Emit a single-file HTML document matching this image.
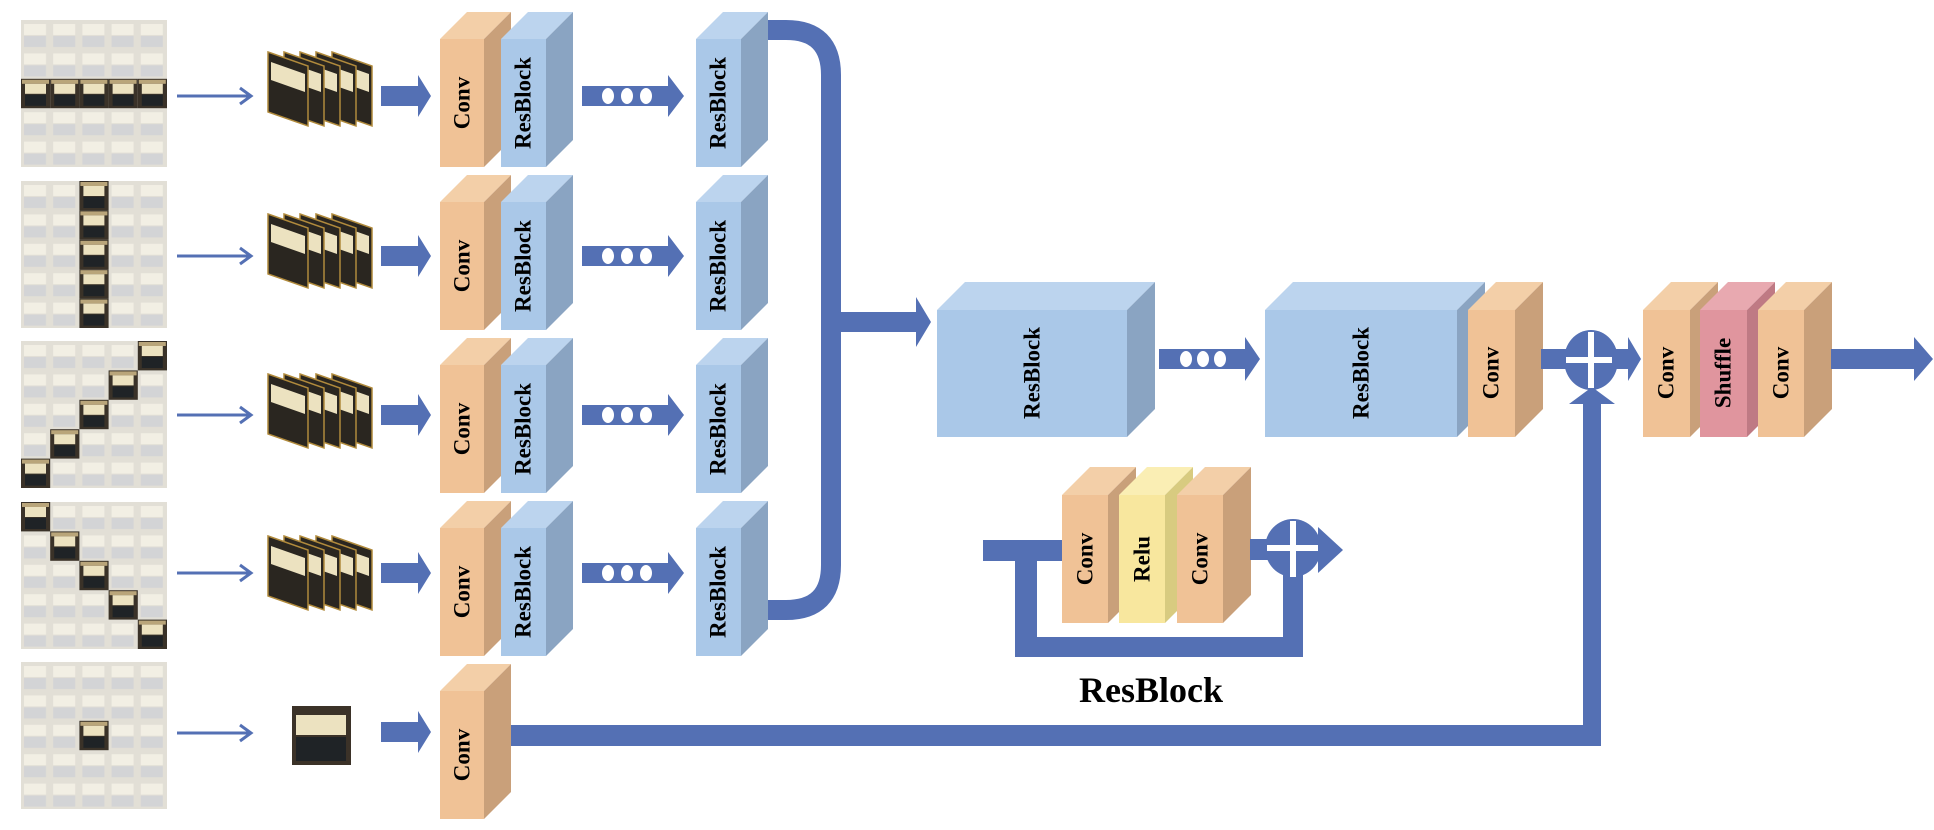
<!DOCTYPE html>
<html><head><meta charset="utf-8"><style>
html,body{margin:0;padding:0;background:#fff;}
svg{display:block;}
.t{font-family:"Liberation Serif",serif;font-weight:bold;font-size:23px;fill:#000;text-anchor:middle;dominant-baseline:central;}
</style></head><body>
<svg width="1934" height="830" viewBox="0 0 1934 830" xmlns="http://www.w3.org/2000/svg">
<defs>
<pattern id="cell" x="21" y="20" width="29.2" height="29.4" patternUnits="userSpaceOnUse">
<rect width="29.2" height="29.4" fill="#e2dfd6"/>
<rect x="3" y="4" width="22" height="11" fill="#f2efe4"/>
<rect x="3" y="16" width="22" height="11" fill="#d3d4d6"/>
</pattern>
<g id="hc">
<rect width="29.2" height="29.4" fill="#3a3228"/>
<rect x="1" y="1" width="27" height="4" fill="#b9a57a"/>
<rect x="4" y="5" width="21" height="10" fill="#ece2c0"/>
<rect x="4" y="16" width="21" height="11" fill="#1f2326"/>
</g>
<g id="card">
<polygon points="0,0 40,14 40,74 0,60" fill="#2a2620" stroke="#b08a3c" stroke-width="1.5"/>
<polygon points="3,10 37,22 37,40 3,28" fill="#ece2c0"/>
</g>
</defs>

<!-- input grids -->
<g>
<rect x="21" y="20" width="146" height="147" fill="url(#cell)"/>
<use href="#hc" x="21" y="78.8"/><use href="#hc" x="50.2" y="78.8"/><use href="#hc" x="79.4" y="78.8"/><use href="#hc" x="108.6" y="78.8"/><use href="#hc" x="137.8" y="78.8"/>
</g>
<g transform="translate(0,161)">
<rect x="21" y="20" width="146" height="147" fill="url(#cell)"/>
<use href="#hc" x="79.4" y="20"/><use href="#hc" x="79.4" y="49.4"/><use href="#hc" x="79.4" y="78.8"/><use href="#hc" x="79.4" y="108.2"/><use href="#hc" x="79.4" y="137.6"/>
</g>
<g transform="translate(0,321)">
<rect x="21" y="20" width="146" height="147" fill="url(#cell)"/>
<use href="#hc" x="137.8" y="20"/><use href="#hc" x="108.6" y="49.4"/><use href="#hc" x="79.4" y="78.8"/><use href="#hc" x="50.2" y="108.2"/><use href="#hc" x="21" y="137.6"/>
</g>
<g transform="translate(0,482)">
<rect x="21" y="20" width="146" height="147" fill="url(#cell)"/>
<use href="#hc" x="21" y="20"/><use href="#hc" x="50.2" y="49.4"/><use href="#hc" x="79.4" y="78.8"/><use href="#hc" x="108.6" y="108.2"/><use href="#hc" x="137.8" y="137.6"/>
</g>
<g transform="translate(0,642)">
<rect x="21" y="20" width="146" height="147" fill="url(#cell)"/>
<use href="#hc" x="79.4" y="78.8"/>
</g>

<!-- image stacks -->
<g><use href="#card" x="332" y="52"/><use href="#card" x="316" y="52"/><use href="#card" x="300" y="52"/><use href="#card" x="284" y="52"/><use href="#card" x="268" y="52"/></g>
<g transform="translate(0,162)"><use href="#card" x="332" y="52"/><use href="#card" x="316" y="52"/><use href="#card" x="300" y="52"/><use href="#card" x="284" y="52"/><use href="#card" x="268" y="52"/></g>
<g transform="translate(0,322)"><use href="#card" x="332" y="52"/><use href="#card" x="316" y="52"/><use href="#card" x="300" y="52"/><use href="#card" x="284" y="52"/><use href="#card" x="268" y="52"/></g>
<g transform="translate(0,484)"><use href="#card" x="332" y="52"/><use href="#card" x="316" y="52"/><use href="#card" x="300" y="52"/><use href="#card" x="284" y="52"/><use href="#card" x="268" y="52"/></g>
<g>
<rect x="292" y="706" width="59" height="59" fill="#3b3228"/>
<rect x="296" y="715" width="50" height="20" fill="#ece2c0"/>
<rect x="296" y="737" width="50" height="24" fill="#1f2326"/>
</g>

<g stroke="#5470b4" stroke-width="3" fill="none">
<path d="M177,96 H250 M240,88 L251,96 L240,104"/>
<path d="M177,256 H250 M240,248 L251,256 L240,264"/>
<path d="M177,415 H250 M240,407 L251,415 L240,423"/>
<path d="M177,573 H250 M240,565 L251,573 L240,581"/>
<path d="M177,733 H250 M240,725 L251,733 L240,741"/>
</g>
<g fill="#5470b4">
<polygon points="381,86 418,86 418,75 431,96 418,117 418,106 381,106"/>
<polygon points="381,246 418,246 418,235 431,256 418,277 418,266 381,266"/>
<polygon points="381,405 418,405 418,394 431,415 418,436 418,425 381,425"/>
<polygon points="381,563 418,563 418,552 431,573 418,594 418,583 381,583"/>
<polygon points="381,722 418,722 418,711 431,732 418,753 418,742 381,742"/>
<polygon points="582,86 668,86 668,75 684,96 668,117 668,106 582,106"/>
<polygon points="582,246 668,246 668,235 684,256 668,277 668,266 582,266"/>
<polygon points="582,405 668,405 668,394 684,415 668,436 668,425 582,425"/>
<polygon points="582,563 668,563 668,552 684,573 668,594 668,583 582,583"/>
</g>
<g fill="#fff">
<ellipse cx="608" cy="96" rx="6" ry="8"/><ellipse cx="627" cy="96" rx="6" ry="8"/><ellipse cx="646" cy="96" rx="6" ry="8"/>
<ellipse cx="608" cy="256" rx="6" ry="8"/><ellipse cx="627" cy="256" rx="6" ry="8"/><ellipse cx="646" cy="256" rx="6" ry="8"/>
<ellipse cx="608" cy="415" rx="6" ry="8"/><ellipse cx="627" cy="415" rx="6" ry="8"/><ellipse cx="646" cy="415" rx="6" ry="8"/>
<ellipse cx="608" cy="573" rx="6" ry="8"/><ellipse cx="627" cy="573" rx="6" ry="8"/><ellipse cx="646" cy="573" rx="6" ry="8"/>
</g>

<!-- row boxes -->
<g>
<rect x="440" y="39" width="44" height="128" fill="#f0c296"/>
<polygon points="440,39 467,12 511,12 484,39" fill="#f3cfa8"/>
<polygon points="484,39 511,12 511,140 484,167" fill="#c9a07a"/>
<rect x="501" y="39" width="45" height="128" fill="#aac8e8"/>
<polygon points="501,39 528,12 573,12 546,39" fill="#bcd4ee"/>
<polygon points="546,39 573,12 573,140 546,167" fill="#8aa4c2"/>
<rect x="696" y="39" width="45" height="128" fill="#aac8e8"/>
<polygon points="696,39 723,12 768,12 741,39" fill="#bcd4ee"/>
<polygon points="741,39 768,12 768,140 741,167" fill="#8aa4c2"/>
<text class="t" transform="translate(462,103) rotate(-90)">Conv</text>
<text class="t" transform="translate(523,103) rotate(-90)">ResBlock</text>
<text class="t" transform="translate(718,103) rotate(-90)">ResBlock</text>
</g>
<g transform="translate(0,163)">
<rect x="440" y="39" width="44" height="128" fill="#f0c296"/>
<polygon points="440,39 467,12 511,12 484,39" fill="#f3cfa8"/>
<polygon points="484,39 511,12 511,140 484,167" fill="#c9a07a"/>
<rect x="501" y="39" width="45" height="128" fill="#aac8e8"/>
<polygon points="501,39 528,12 573,12 546,39" fill="#bcd4ee"/>
<polygon points="546,39 573,12 573,140 546,167" fill="#8aa4c2"/>
<rect x="696" y="39" width="45" height="128" fill="#aac8e8"/>
<polygon points="696,39 723,12 768,12 741,39" fill="#bcd4ee"/>
<polygon points="741,39 768,12 768,140 741,167" fill="#8aa4c2"/>
<text class="t" transform="translate(462,103) rotate(-90)">Conv</text>
<text class="t" transform="translate(523,103) rotate(-90)">ResBlock</text>
<text class="t" transform="translate(718,103) rotate(-90)">ResBlock</text>
</g>
<g transform="translate(0,326)">
<rect x="440" y="39" width="44" height="128" fill="#f0c296"/>
<polygon points="440,39 467,12 511,12 484,39" fill="#f3cfa8"/>
<polygon points="484,39 511,12 511,140 484,167" fill="#c9a07a"/>
<rect x="501" y="39" width="45" height="128" fill="#aac8e8"/>
<polygon points="501,39 528,12 573,12 546,39" fill="#bcd4ee"/>
<polygon points="546,39 573,12 573,140 546,167" fill="#8aa4c2"/>
<rect x="696" y="39" width="45" height="128" fill="#aac8e8"/>
<polygon points="696,39 723,12 768,12 741,39" fill="#bcd4ee"/>
<polygon points="741,39 768,12 768,140 741,167" fill="#8aa4c2"/>
<text class="t" transform="translate(462,103) rotate(-90)">Conv</text>
<text class="t" transform="translate(523,103) rotate(-90)">ResBlock</text>
<text class="t" transform="translate(718,103) rotate(-90)">ResBlock</text>
</g>
<g transform="translate(0,489)">
<rect x="440" y="39" width="44" height="128" fill="#f0c296"/>
<polygon points="440,39 467,12 511,12 484,39" fill="#f3cfa8"/>
<polygon points="484,39 511,12 511,140 484,167" fill="#c9a07a"/>
<rect x="501" y="39" width="45" height="128" fill="#aac8e8"/>
<polygon points="501,39 528,12 573,12 546,39" fill="#bcd4ee"/>
<polygon points="546,39 573,12 573,140 546,167" fill="#8aa4c2"/>
<rect x="696" y="39" width="45" height="128" fill="#aac8e8"/>
<polygon points="696,39 723,12 768,12 741,39" fill="#bcd4ee"/>
<polygon points="741,39 768,12 768,140 741,167" fill="#8aa4c2"/>
<text class="t" transform="translate(462,103) rotate(-90)">Conv</text>
<text class="t" transform="translate(523,103) rotate(-90)">ResBlock</text>
<text class="t" transform="translate(718,103) rotate(-90)">ResBlock</text>
</g>

<!-- bottom skip line -->
<rect x="505" y="725" width="1096" height="21" fill="#5470b4"/>
<rect x="1583" y="400" width="18" height="346" fill="#5470b4"/>
<polygon points="1569,404 1592,387 1615,404" fill="#5470b4"/>

<g transform="translate(0,652)">
<rect x="440" y="39" width="44" height="128" fill="#f0c296"/>
<polygon points="440,39 467,12 511,12 484,39" fill="#f3cfa8"/>
<polygon points="484,39 511,12 511,140 484,167" fill="#c9a07a"/>
<text class="t" transform="translate(462,103) rotate(-90)">Conv</text>
</g>

<!-- merge curve -->
<path d="M768,30 H786 Q831,30 831,75 V565 Q831,610 786,610 H768" fill="none" stroke="#5470b4" stroke-width="20"/>
<polygon points="841,312 916,312 916,297 931,322 916,347 916,332 841,332" fill="#5470b4"/>

<!-- big blocks -->
<rect x="937" y="310" width="190" height="127" fill="#aac8e8"/>
<polygon points="937,310 965,282 1155,282 1127,310" fill="#bcd4ee"/>
<polygon points="1127,310 1155,282 1155,409 1127,437" fill="#8aa4c2"/>
<text class="t" transform="translate(1032,373) rotate(-90)">ResBlock</text>
<polygon points="1159,349 1245,349 1245,337 1260,359 1245,381 1245,369 1159,369" fill="#5470b4"/>
<g fill="#fff"><ellipse cx="1186" cy="359" rx="6" ry="8"/><ellipse cx="1203" cy="359" rx="6" ry="8"/><ellipse cx="1220" cy="359" rx="6" ry="8"/></g>

<rect x="1265" y="310" width="192" height="127" fill="#aac8e8"/>
<polygon points="1265,310 1293,282 1485,282 1457,310" fill="#bcd4ee"/>
<polygon points="1457,310 1485,282 1485,409 1457,437" fill="#8aa4c2"/>
<text class="t" transform="translate(1361,373) rotate(-90)">ResBlock</text>
<rect x="1468" y="310" width="47" height="127" fill="#f0c296"/>
<polygon points="1468,310 1496,282 1543,282 1515,310" fill="#f3cfa8"/>
<polygon points="1515,310 1543,282 1543,409 1515,437" fill="#c9a07a"/>
<text class="t" transform="translate(1491,373) rotate(-90)">Conv</text>

<rect x="1541" y="349" width="30" height="20" fill="#5470b4"/>
<ellipse cx="1591" cy="360" rx="27" ry="30" fill="#5470b4"/>
<path d="M1591,332 V388 M1566,360 H1616" stroke="#fff" stroke-width="6"/>
<polygon points="1612,349 1628,349 1628,337 1641,359 1628,381 1628,369 1612,369" fill="#5470b4"/>

<!-- right group -->
<rect x="1643" y="310" width="47" height="127" fill="#f0c296"/>
<polygon points="1643,310 1671,282 1718,282 1690,310" fill="#f3cfa8"/>
<polygon points="1690,310 1718,282 1718,409 1690,437" fill="#c9a07a"/>
<rect x="1700" y="310" width="47" height="127" fill="#e0959e"/>
<polygon points="1700,310 1728,282 1775,282 1747,310" fill="#e8a9b0"/>
<polygon points="1747,310 1775,282 1775,409 1747,437" fill="#bf7a84"/>
<rect x="1758" y="310" width="46" height="127" fill="#f0c296"/>
<polygon points="1758,310 1786,282 1832,282 1804,310" fill="#f3cfa8"/>
<polygon points="1804,310 1832,282 1832,409 1804,437" fill="#c9a07a"/>
<text class="t" transform="translate(1666,373) rotate(-90)">Conv</text>
<text class="t" transform="translate(1723,373) rotate(-90)">Shuffle</text>
<text class="t" transform="translate(1781,373) rotate(-90)">Conv</text>
<polygon points="1831,349 1914,349 1914,337 1933,359 1914,381 1914,369 1831,369" fill="#5470b4"/>

<!-- small resblock -->
<rect x="983" y="540" width="80" height="21" fill="#5470b4"/>
<rect x="1015" y="540" width="22" height="117" fill="#5470b4"/>
<rect x="1015" y="637" width="288" height="20" fill="#5470b4"/>
<rect x="1283" y="550" width="20" height="107" fill="#5470b4"/>
<rect x="1062" y="495" width="46" height="128" fill="#f0c296"/>
<polygon points="1062,495 1090,467 1136,467 1108,495" fill="#f3cfa8"/>
<polygon points="1108,495 1136,467 1136,595 1108,623" fill="#c9a07a"/>
<rect x="1119" y="495" width="46" height="128" fill="#f8e79e"/>
<polygon points="1119,495 1147,467 1193,467 1165,495" fill="#faeeb4"/>
<polygon points="1165,495 1193,467 1193,595 1165,623" fill="#d8cb80"/>
<rect x="1177" y="495" width="46" height="128" fill="#f0c296"/>
<polygon points="1177,495 1205,467 1251,467 1223,495" fill="#f3cfa8"/>
<polygon points="1223,495 1251,467 1251,595 1223,623" fill="#c9a07a"/>
<text class="t" transform="translate(1085,559) rotate(-90)">Conv</text>
<text class="t" transform="translate(1142,559) rotate(-90)">Relu</text>
<text class="t" transform="translate(1200,559) rotate(-90)">Conv</text>
<rect x="1250" y="539" width="25" height="21" fill="#5470b4"/>
<ellipse cx="1293" cy="548" rx="28" ry="29" fill="#5470b4"/>
<path d="M1293,521 V577 M1267,548 H1319" stroke="#fff" stroke-width="6"/>
<polygon points="1318,527 1343,550 1318,573" fill="#5470b4"/>
<text x="1151" y="702" font-family="Liberation Serif, serif" font-weight="bold" font-size="36" text-anchor="middle" fill="#000">ResBlock</text>
</svg>
</body></html>
